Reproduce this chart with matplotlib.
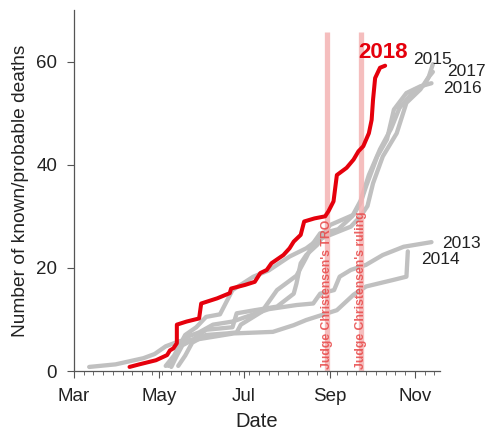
import matplotlib.pyplot as plt
from matplotlib.ticker import MultipleLocator, FixedLocator

plt.rcParams['font.family'] = ['Liberation Sans', 'DejaVu Sans']

# x values are days since Mar 1
month_ticks = [0, 61, 122, 184, 245]
month_labels = ['Mar', 'May', 'Jul', 'Sep', 'Nov']

days_2018 = [40, 47, 59, 67, 69, 71.5, 74, 74, 81, 90, 91.5, 103, 112, 113, 123, 130, 134,
             138.6, 142, 150.6, 155, 158, 163, 165.5, 173, 180.6, 183, 186.6, 189, 196, 201,
             204.5, 208, 212, 214, 215, 216.5, 220, 223.7]
deaths_2018 = [0.8, 1.3, 2.1, 3.1, 4, 4.4, 5.4, 9, 9.6, 10.2, 13.1, 14.1, 15.1, 16, 16.7, 17.3,
               19, 19.6, 20.9, 22.5, 23.8, 25.1, 26.4, 29, 29.6, 30, 31, 32.9, 38, 39.4, 41,
               42.6, 43.6, 46.1, 48.7, 52.6, 56.8, 58.8, 59.2]

days_2013 = [66, 72, 76, 80, 90, 100, 114, 129, 140, 160, 172, 177, 187, 191, 199, 210, 222,
             237, 257]
deaths_2013 = [1, 3, 5, 6.5, 7.5, 9, 9.6, 11, 12, 12.8, 13.1, 15, 15.7, 18.3, 19.6, 20.6,
               22.5, 24.1, 25]

days_2014 = [11, 30, 50, 58, 66, 76, 90, 115, 143, 158, 167, 189, 201, 210, 230, 239, 240]
deaths_2014 = [0.8, 1.3, 2.5, 3.3, 4.8, 5.8, 6.2, 7.3, 7.6, 8.9, 9.9, 11.8, 14.8, 16.4, 17.7,
               18.3, 23.2]

days_2015 = [68, 72, 76, 80, 88, 95, 105, 114, 129, 140, 155, 167, 175, 187, 199, 206, 211,
             215, 222, 232, 239, 249, 255, 258]
deaths_2015 = [1, 2.5, 5, 7, 8.5, 10.5, 11, 15.7, 18.3, 19.5, 22.2, 23.8, 25.4, 26.7, 28, 30,
               32, 36.4, 41.6, 46.1, 52, 54.6, 57, 59.5]

days_2016 = [70, 74, 78, 85, 95, 114, 117, 130, 146, 158, 160, 163, 167, 175, 184, 201, 206,
             210, 218, 225, 230, 239, 249, 257]
deaths_2016 = [0.8, 3, 5, 6, 8, 8.5, 11.2, 11.8, 12.5, 15, 17, 20.9, 22.5, 24.5, 28.3, 30.3,
               32.6, 35.8, 41.6, 44.9, 50.7, 53.9, 55.2, 55.8]

days_2017 = [75, 80, 85, 95, 110, 117, 120, 135, 146, 160, 167, 172, 177, 183, 190, 200, 206,
             212, 220, 228, 234, 245, 252, 255, 258]
deaths_2017 = [1, 3, 5.5, 7, 7.3, 7.5, 9, 11.5, 15.7, 18.5, 22, 24.8, 26.7, 27, 27.5, 30, 33,
               38, 43, 47, 51, 54.5, 55.5, 57, 58]

gray_years = {
    '2013': (days_2013, deaths_2013, 264.5, 24.8),
    '2014': (days_2014, deaths_2014, 249.4, 21.6),
    '2015': (days_2015, deaths_2015, 244, 60.4),
    '2016': (days_2016, deaths_2016, 265.7, 54.7),
    '2017': (days_2017, deaths_2017, 268, 58.1),
}

events = [(182, "Judge Christensen's TRO"), (206, "Judge Christensen's ruling")]

fig = plt.figure(figsize=(4.86, 4.34), dpi=100)
ax = fig.add_axes([0.152, 0.145, 0.753, 0.832])

gray = '#c0c0c0'
for year, (d, n, lx, ly) in gray_years.items():
    ax.plot(d, n, color=gray, lw=3.1, solid_capstyle='round', solid_joinstyle='round')
    ax.text(lx, ly, year, fontsize=12.5, color='#222222', ha='left', va='center', clip_on=False)

for x, label in events:
    ax.plot([x, x], [0, 65.7], color='#f4b3b3', lw=3.8, alpha=0.85, solid_capstyle='butt')
    ax.text(x, 0.4, label, rotation=90, ha='center', va='bottom', fontsize=8.8,
            fontweight='bold', color='#e84848', alpha=0.85, zorder=5)

ax.plot(days_2018, deaths_2018, color='#e5000c', lw=2.9, solid_capstyle='round',
        solid_joinstyle='round')
ax.text(222, 61.8, '2018', fontsize=16, fontweight='bold', color='#e5000c',
        ha='center', va='center')

ax.set_xlim(0, 263)
ax.set_ylim(0, 70)
ax.spines['top'].set_visible(False)
ax.spines['right'].set_visible(False)
for s in ['left', 'bottom']:
    ax.spines[s].set_color('#555555')
    ax.spines[s].set_linewidth(0.9)

ax.xaxis.set_major_locator(FixedLocator(month_ticks))
ax.set_xticklabels(month_labels)
ax.xaxis.set_minor_locator(MultipleLocator(7))
ax.set_yticks([0, 20, 40, 60])
ax.tick_params(axis='both', which='major', labelsize=13.5, length=5, color='#555555',
               labelcolor='#222222', pad=7)
ax.tick_params(axis='x', which='minor', length=3, color='#555555')

ax.set_xlabel('Date', fontsize=14.5, color='#222222', labelpad=5)
ax.set_ylabel('Number of known/probable deaths', fontsize=13.8, color='#222222', labelpad=5)

fig.savefig('out.png', dpi=100)
